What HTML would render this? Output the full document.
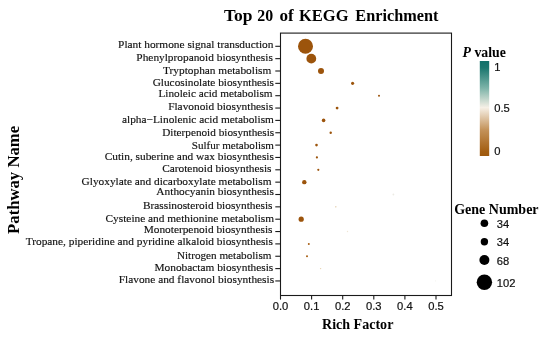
<!DOCTYPE html><html><head><meta charset="utf-8"><style>html,body{margin:0;padding:0;background:#fff}svg{display:block;will-change:transform}text{font-family:"Liberation Serif",serif;fill:#111}.l{stroke:#111;stroke-width:0.15px}.s{font-family:"Liberation Sans",sans-serif;font-size:11.2px;fill:#111;stroke:#111;stroke-width:0.2px}.b{font-weight:bold;fill:#000}</style></head><body>
<svg width="550" height="338" viewBox="0 0 550 338">
<defs><linearGradient id="g" x1="0" y1="0" x2="0" y2="1"><stop offset="0" stop-color="#11706a"/><stop offset="0.07" stop-color="#1a766e"/><stop offset="0.284" stop-color="#7cb3a8"/><stop offset="0.49" stop-color="#f6f0e6"/><stop offset="0.726" stop-color="#c39259"/><stop offset="0.953" stop-color="#a35e12"/><stop offset="1" stop-color="#9e590e"/></linearGradient></defs>
<rect width="550" height="338" fill="#fff"/>
<text class="b" font-size="17" transform="translate(224.00,20.70) scale(1.0289,1)">Top</text>
<text class="b" font-size="17" transform="translate(257.30,20.70) scale(0.9353,1)">20</text>
<text class="b" font-size="17" transform="translate(279.50,20.70) scale(1.0069,1)">of</text>
<text class="b" font-size="17" transform="translate(299.00,20.70) scale(0.9706,1)">KEGG</text>
<text class="b" font-size="17" transform="translate(355.30,20.70) scale(0.9574,1)">Enrichment</text>
<text class="b" font-size="16.7" text-anchor="middle" transform="translate(19.4,179.9) rotate(-90)">Pathway Name</text>
<text class="b" font-size="14.05" text-anchor="middle" x="357.7" y="328.6">Rich Factor</text>
<rect x="280.5" y="33.1" width="171" height="262.4" fill="none" stroke="#1a1a1a" stroke-width="1.1"/>
<line x1="275.3" x2="280.5" y1="46.30" y2="46.30" stroke="#1a1a1a" stroke-width="1.1"/>
<text class="l" font-size="11.35" text-anchor="end" transform="translate(273.4,47.95) scale(1.0000,1)">Plant hormone signal transduction</text>
<line x1="275.3" x2="280.5" y1="58.65" y2="58.65" stroke="#1a1a1a" stroke-width="1.1"/>
<text class="l" font-size="11.35" text-anchor="end" transform="translate(272.8,60.95) scale(1.0000,1)">Phenylpropanoid biosynthesis</text>
<line x1="275.3" x2="280.5" y1="71.00" y2="71.00" stroke="#1a1a1a" stroke-width="1.1"/>
<text class="l" font-size="11.35" text-anchor="end" transform="translate(271.3,73.70) scale(1.0000,1)">Tryptophan metabolism</text>
<line x1="275.3" x2="280.5" y1="83.35" y2="83.35" stroke="#1a1a1a" stroke-width="1.1"/>
<text class="l" font-size="11.35" text-anchor="end" transform="translate(274.0,86.15) scale(0.9950,1)">Glucosinolate biosynthesis</text>
<line x1="275.3" x2="280.5" y1="95.70" y2="95.70" stroke="#1a1a1a" stroke-width="1.1"/>
<text class="l" font-size="11.35" text-anchor="end" transform="translate(272.6,97.00) scale(0.9910,1)">Linoleic acid metabolism</text>
<line x1="275.3" x2="280.5" y1="108.05" y2="108.05" stroke="#1a1a1a" stroke-width="1.1"/>
<text class="l" font-size="11.35" text-anchor="end" transform="translate(273.1,110.35) scale(1.0000,1)">Flavonoid biosynthesis</text>
<line x1="275.3" x2="280.5" y1="120.40" y2="120.40" stroke="#1a1a1a" stroke-width="1.1"/>
<text class="l" font-size="11.35" text-anchor="end" transform="translate(273.9,122.60) scale(1.0000,1)">alpha−Linolenic acid metabolism</text>
<line x1="275.3" x2="280.5" y1="132.75" y2="132.75" stroke="#1a1a1a" stroke-width="1.1"/>
<text class="l" font-size="11.35" text-anchor="end" transform="translate(274.2,135.65) scale(0.9910,1)">Diterpenoid biosynthesis</text>
<line x1="275.3" x2="280.5" y1="145.10" y2="145.10" stroke="#1a1a1a" stroke-width="1.1"/>
<text class="l" font-size="11.35" text-anchor="end" transform="translate(274.0,148.60) scale(0.9780,1)">Sulfur metabolism</text>
<line x1="275.3" x2="280.5" y1="157.45" y2="157.45" stroke="#1a1a1a" stroke-width="1.1"/>
<text class="l" font-size="11.35" text-anchor="end" transform="translate(273.9,160.25) scale(1.0000,1)">Cutin, suberine and wax biosynthesis</text>
<line x1="275.3" x2="280.5" y1="169.80" y2="169.80" stroke="#1a1a1a" stroke-width="1.1"/>
<text class="l" font-size="11.35" text-anchor="end" transform="translate(271.5,171.80) scale(1.0000,1)">Carotenoid biosynthesis</text>
<line x1="275.3" x2="280.5" y1="182.15" y2="182.15" stroke="#1a1a1a" stroke-width="1.1"/>
<text class="l" font-size="11.35" text-anchor="end" transform="translate(271.5,184.55) scale(1.0000,1)">Glyoxylate and dicarboxylate metabolism</text>
<line x1="275.3" x2="280.5" y1="194.50" y2="194.50" stroke="#1a1a1a" stroke-width="1.1"/>
<text class="l" font-size="11.35" text-anchor="end" transform="translate(273.9,194.80) scale(1.0000,1)">Anthocyanin biosynthesis</text>
<line x1="275.3" x2="280.5" y1="206.85" y2="206.85" stroke="#1a1a1a" stroke-width="1.1"/>
<text class="l" font-size="11.35" text-anchor="end" transform="translate(272.5,209.05) scale(1.0000,1)">Brassinosteroid biosynthesis</text>
<line x1="275.3" x2="280.5" y1="219.20" y2="219.20" stroke="#1a1a1a" stroke-width="1.1"/>
<text class="l" font-size="11.35" text-anchor="end" transform="translate(274.1,221.80) scale(1.0000,1)">Cysteine and methionine metabolism</text>
<line x1="275.3" x2="280.5" y1="231.55" y2="231.55" stroke="#1a1a1a" stroke-width="1.1"/>
<text class="l" font-size="11.35" text-anchor="end" transform="translate(272.5,233.35) scale(1.0000,1)">Monoterpenoid biosynthesis</text>
<line x1="275.3" x2="280.5" y1="243.90" y2="243.90" stroke="#1a1a1a" stroke-width="1.1"/>
<text class="l" font-size="11.35" text-anchor="end" transform="translate(272.9,244.90) scale(1.0000,1)">Tropane, piperidine and pyridine alkaloid biosynthesis</text>
<line x1="275.3" x2="280.5" y1="256.25" y2="256.25" stroke="#1a1a1a" stroke-width="1.1"/>
<text class="l" font-size="11.35" text-anchor="end" transform="translate(271.5,259.05) scale(0.9850,1)">Nitrogen metabolism</text>
<line x1="275.3" x2="280.5" y1="268.60" y2="268.60" stroke="#1a1a1a" stroke-width="1.1"/>
<text class="l" font-size="11.35" text-anchor="end" transform="translate(273.3,271.30) scale(1.0000,1)">Monobactam biosynthesis</text>
<line x1="275.3" x2="280.5" y1="280.95" y2="280.95" stroke="#1a1a1a" stroke-width="1.1"/>
<text class="l" font-size="11.35" text-anchor="end" transform="translate(274.1,282.85) scale(1.0000,1)">Flavone and flavonol biosynthesis</text>
<line x1="280.50" x2="280.50" y1="295.5" y2="299.6" stroke="#1a1a1a" stroke-width="1.1"/>
<text class="s" text-anchor="middle" x="280.50" y="310.0">0.0</text>
<line x1="311.60" x2="311.60" y1="295.5" y2="299.6" stroke="#1a1a1a" stroke-width="1.1"/>
<text class="s" text-anchor="middle" x="311.60" y="310.0">0.1</text>
<line x1="342.70" x2="342.70" y1="295.5" y2="299.6" stroke="#1a1a1a" stroke-width="1.1"/>
<text class="s" text-anchor="middle" x="342.70" y="310.0">0.2</text>
<line x1="373.80" x2="373.80" y1="295.5" y2="299.6" stroke="#1a1a1a" stroke-width="1.1"/>
<text class="s" text-anchor="middle" x="373.80" y="310.0">0.3</text>
<line x1="404.90" x2="404.90" y1="295.5" y2="299.6" stroke="#1a1a1a" stroke-width="1.1"/>
<text class="s" text-anchor="middle" x="404.90" y="310.0">0.4</text>
<line x1="436.00" x2="436.00" y1="295.5" y2="299.6" stroke="#1a1a1a" stroke-width="1.1"/>
<text class="s" text-anchor="middle" x="436.00" y="310.0">0.5</text>
<circle cx="305.5" cy="46.30" r="7.50" fill="#9c540c"/>
<circle cx="311.3" cy="58.65" r="4.90" fill="#9c540c"/>
<circle cx="321.0" cy="71.00" r="3.00" fill="#9c540c"/>
<circle cx="352.6" cy="83.35" r="1.55" fill="#9c540c"/>
<circle cx="379.0" cy="95.70" r="1.00" fill="#9c540c"/>
<circle cx="337.1" cy="108.05" r="1.40" fill="#9c540c"/>
<circle cx="323.6" cy="120.40" r="1.80" fill="#9c540c"/>
<circle cx="330.7" cy="132.75" r="1.20" fill="#9c540c"/>
<circle cx="316.5" cy="145.10" r="1.30" fill="#9c540c"/>
<circle cx="316.9" cy="157.45" r="1.10" fill="#9c540c"/>
<circle cx="318.3" cy="169.80" r="1.10" fill="#9c540c"/>
<circle cx="304.3" cy="182.15" r="2.20" fill="#9c540c"/>
<circle cx="393.4" cy="194.50" r="0.90" fill="#ecebe4"/>
<circle cx="335.8" cy="206.85" r="0.80" fill="#e6d4b8"/>
<circle cx="301.2" cy="219.20" r="2.60" fill="#9c540c"/>
<circle cx="347.5" cy="231.55" r="0.70" fill="#efe6d6"/>
<circle cx="308.8" cy="243.90" r="1.00" fill="#a85f14"/>
<circle cx="307.0" cy="256.25" r="1.00" fill="#a85f14"/>
<circle cx="320.6" cy="268.60" r="0.70" fill="#e8d2ae"/>
<circle cx="435.6" cy="280.95" r="0.60" fill="#f4f4f0"/>
<text class="b" font-size="13.8" x="462.5" y="56.9"><tspan font-style="italic">P</tspan> value</text>
<rect x="479.8" y="61" width="9.4" height="95" fill="url(#g)"/>
<text class="s" x="494.2" y="70.7">1</text>
<text class="s" x="494.2" y="112.2">0.5</text>
<text class="s" x="494.2" y="155.4">0</text>
<text class="b" font-size="14" x="454.2" y="214.3">Gene Number</text>
<circle cx="484.4" cy="223.2" r="3.8" fill="#000"/>
<text class="s" x="496.8" y="227.5">34</text>
<circle cx="484.4" cy="241.7" r="3.7" fill="#000"/>
<text class="s" x="496.8" y="246.2">34</text>
<circle cx="484.4" cy="260.0" r="5.0" fill="#000"/>
<text class="s" x="496.8" y="264.5">68</text>
<circle cx="484.4" cy="282.2" r="7.7" fill="#000"/>
<text class="s" x="496.8" y="286.7">102</text>
</svg></body></html>
